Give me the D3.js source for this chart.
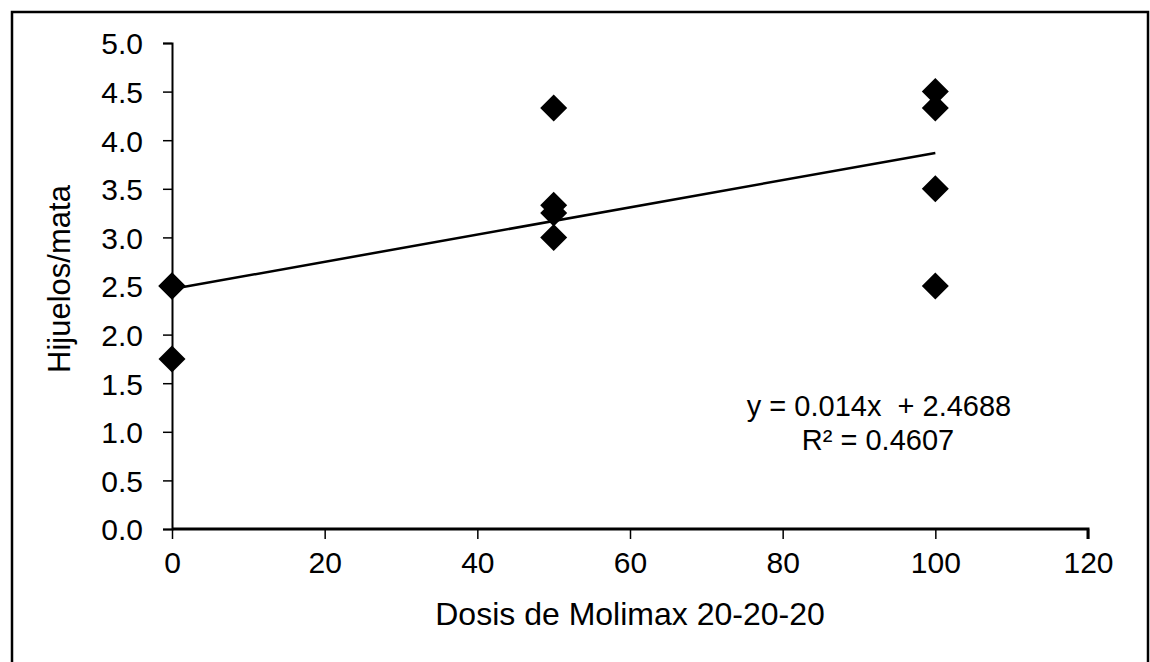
<!DOCTYPE html>
<html>
<head>
<meta charset="utf-8">
<script src="https://cdn.jsdelivr.net/npm/d3@7"></script>
<style>
  html, body { margin: 0; padding: 0; background: #fff; }
  svg { display: block; }
  text { font-family: "Liberation Sans", Arial, sans-serif; fill: #000; }
</style>
</head>
<body>
<svg id="chart" width="1150" height="662"></svg>
<script>
// ---- data ----
const doses = [0, 0, 0, 0, 50, 50, 50, 50, 100, 100, 100, 100];
const hijuelos = [2.5, 2.5, 2.5, 1.75, 4.33, 3.33, 3.25, 3.0, 4.5, 4.33, 3.5, 2.5];
const xTicks = [0, 20, 40, 60, 80, 100, 120];
const yTicks = [0, 0.5, 1, 1.5, 2, 2.5, 3, 3.5, 4, 4.5, 5];
const trendSlope = 0.014;
const trendIntercept = 2.4688;
const trendRange = [0, 100];
const equationLabel = "y = 0.014x  + 2.4688";
const r2Label = "R² = 0.4607";
const xTitle = "Dosis de Molimax 20-20-20";
const yTitle = "Hijuelos/mata";

// ---- layout ----
const svg = d3.select("#chart");
const x = d3.scaleLinear().domain([0, 120]).range([172, 1088]);
const y = d3.scaleLinear().domain([0, 5]).range([529, 43]);

// outer border
svg.append("rect")
  .attr("x", 12).attr("y", 12)
  .attr("width", 1136).attr("height", 670)
  .attr("fill", "none").attr("stroke", "#000").attr("stroke-width", 2.5);

// y axis
const yAxis = d3.axisLeft(y).tickValues(yTicks).tickFormat(d3.format(".1f"))
  .tickSize(9).tickPadding(20);
const gy = svg.append("g").attr("transform", `translate(${x(0)},0)`).call(yAxis);
gy.select(".domain").attr("stroke-width", 2);
gy.selectAll(".tick line").attr("stroke-width", 1.5);
gy.selectAll(".tick text").attr("font-size", 30).attr("font-family", "Liberation Sans, Arial, sans-serif")
  .attr("dy", "0.36em").attr("fill", "#000");

// x axis
const xAxis = d3.axisBottom(x).tickValues(xTicks).tickFormat(d3.format("d"))
  .tickSize(10).tickPadding(13);
const gx = svg.append("g").attr("transform", `translate(0,${y(0)})`).call(xAxis);
gx.select(".domain").attr("stroke-width", 3).attr("d", `M${x(0)},0H${x(120)}V10`);
gx.selectAll(".tick line").attr("stroke-width", 1.5);
gx.selectAll(".tick text").attr("font-size", 30).attr("font-family", "Liberation Sans, Arial, sans-serif")
  .attr("fill", "#000");

// trend line
svg.append("line")
  .attr("x1", x(trendRange[0])).attr("y1", y(trendIntercept + trendSlope * trendRange[0]))
  .attr("x2", x(trendRange[1])).attr("y2", y(trendIntercept + trendSlope * trendRange[1]))
  .attr("stroke", "#000").attr("stroke-width", 2.5);

// points (diamonds)
const h = 13.5;
svg.append("g").selectAll("path")
  .data(doses.map((d, i) => [d, hijuelos[i]]))
  .join("path")
  .attr("transform", d => `translate(${x(d[0])},${y(d[1])})`)
  .attr("d", `M0,${-h}L${h},0L0,${h}L${-h},0Z`)
  .attr("fill", "#000");

// equation
svg.append("text").attr("x", 879).attr("y", 416).attr("text-anchor", "middle")
  .attr("font-size", 29).style("white-space", "pre").text(equationLabel);
svg.append("text").attr("x", 878).attr("y", 450).attr("text-anchor", "middle")
  .attr("font-size", 29).text(r2Label);

// axis titles
svg.append("text").attr("x", 630).attr("y", 625).attr("text-anchor", "middle")
  .attr("font-size", 32).text(xTitle);
svg.append("text").attr("transform", "translate(70,279) rotate(-90)")
  .attr("text-anchor", "middle").attr("font-size", 31).text(yTitle);
</script>
</body>
</html>
